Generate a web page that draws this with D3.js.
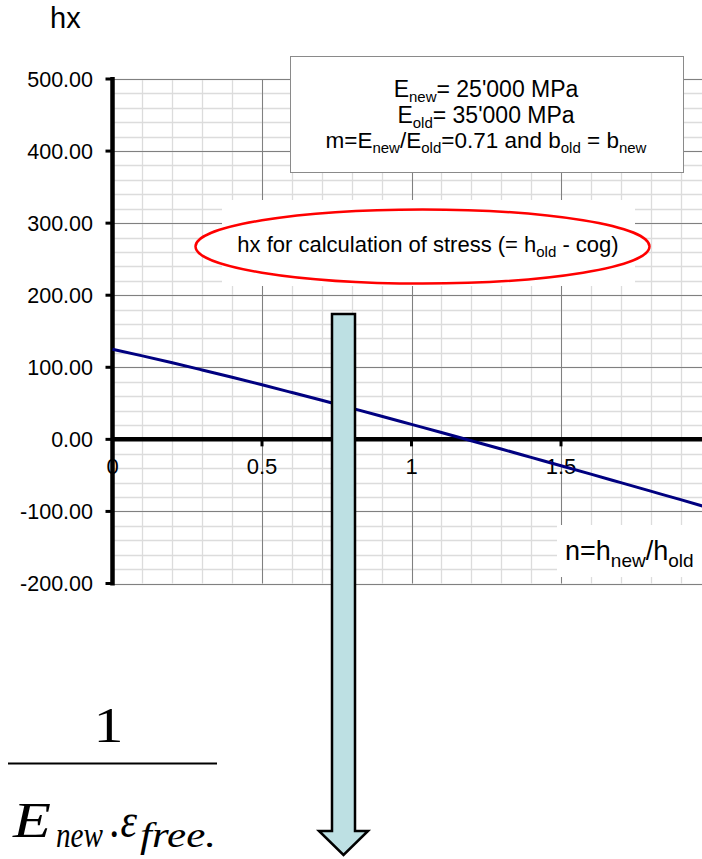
<html>
	<head>
		<meta charset="utf-8">
		<title>hx chart</title>
		<script src="https://d3js.org/d3.v7.min.js"></script>
		<style>
			body { margin: 0; background: #fff; }
			svg { display: block; font-family: "Liberation Sans", Arial, sans-serif; }
		</style>
	</head>
	<body>
		<div id="chart"></div>

	<script type="text/javascript">
		// data
		var nValues = [0, 0.1, 0.2, 0.3, 0.4, 0.5, 0.6, 0.7, 0.8, 0.9, 1.0, 1.1, 1.2, 1.3, 1.4, 1.5, 1.6, 1.7, 1.8, 1.9, 2.0];
		var hxValues = [125, 115.8, 106.3, 96.3, 86.1, 75.7, 65.0, 54.2, 43.2, 32.1, 20.8, 9.5, -1.9, -13.4, -25.0, -36.6, -48.3, -60.1, -71.9, -83.7, -95.6];
		var yTickValues = [500, 400, 300, 200, 100, 0, -100, -200];
		var xTickValues = [0, 0.5, 1, 1.5];
		var xTickLabels = ["0", "0.5", "1", "1.5"];

		var W = 702, H = 859;
		var svg = d3.select("#chart").append("svg")
			.attr("width", W)
			.attr("height", H);

		// scales
		var x = d3.scaleLinear().domain([0, 2]).range([112.5, 710.5]);
		var y = d3.scaleLinear().domain([-200, 500]).range([583.5, 79]);

		// grid: minor then major
		var minorX = d3.range(0, 2.001, 0.1);
		var minorY = d3.range(-200, 500.1, 20);
		var grid = svg.append("g");
		grid.selectAll(".mx").data(minorX).enter().append("line")
			.attr("x1", function(d) { return Math.round(x(d)) + 0.5; })
			.attr("x2", function(d) { return Math.round(x(d)) + 0.5; })
			.attr("y1", y(500)).attr("y2", y(-200))
			.attr("stroke", "#dcdcdc").attr("stroke-width", 1.3);
		grid.selectAll(".my").data(minorY).enter().append("line")
			.attr("x1", x(0)).attr("x2", W)
			.attr("y1", function(d) { return Math.round(y(d)) + 0.5; })
			.attr("y2", function(d) { return Math.round(y(d)) + 0.5; })
			.attr("stroke", "#dcdcdc").attr("stroke-width", 1.3);
		grid.selectAll(".Mx").data([0.5, 1, 1.5, 2]).enter().append("line")
			.attr("x1", function(d) { return Math.round(x(d)) + 0.5; })
			.attr("x2", function(d) { return Math.round(x(d)) + 0.5; })
			.attr("y1", y(500)).attr("y2", y(-200))
			.attr("stroke", "#808080").attr("stroke-width", 1);
		grid.selectAll(".My").data(yTickValues).enter().append("line")
			.attr("x1", x(0)).attr("x2", W)
			.attr("y1", function(d) { return Math.round(y(d)) + 0.5; })
			.attr("y2", function(d) { return Math.round(y(d)) + 0.5; })
			.attr("stroke", "#808080").attr("stroke-width", 1);

		// y tick labels
		svg.append("g").selectAll("text").data(yTickValues).enter().append("text")
			.attr("x", 93)
			.attr("y", function(d) { return y(d) + 7.5; })
			.attr("text-anchor", "end")
			.attr("font-size", 21.5)
			.attr("fill", "#000")
			.text(function(d) { return d3.format(".2f")(d).replace("\u2212", "-"); });

		// x tick labels
		svg.append("g").selectAll("text").data(xTickValues).enter().append("text")
			.attr("x", function(d) { return x(d); })
			.attr("y", 474)
			.attr("text-anchor", "middle")
			.attr("font-size", 22)
			.attr("fill", "#000")
			.text(function(d, i) { return xTickLabels[i]; });

		// axes
		svg.append("line")
			.attr("x1", x(0)).attr("x2", x(0))
			.attr("y1", y(500) - 2).attr("y2", y(-200) + 2)
			.attr("stroke", "#000").attr("stroke-width", 4.5);
		svg.append("line")
			.attr("x1", x(0)).attr("x2", W)
			.attr("y1", y(0)).attr("y2", y(0))
			.attr("stroke", "#000").attr("stroke-width", 4.5);
		svg.append("g").selectAll("line").data(yTickValues).enter().append("line")
			.attr("x1", x(0) - 7).attr("x2", x(0))
			.attr("y1", function(d) { return y(d); })
			.attr("y2", function(d) { return y(d); })
			.attr("stroke", "#000").attr("stroke-width", 3);
		svg.append("g").selectAll("line").data([0.5, 1, 1.5]).enter().append("line")
			.attr("x1", function(d) { return x(d); })
			.attr("x2", function(d) { return x(d); })
			.attr("y1", y(0)).attr("y2", y(0) + 7)
			.attr("stroke", "#000").attr("stroke-width", 3);

		// the hx line
		svg.append("path")
			.datum(nValues)
			.attr("fill", "none")
			.attr("stroke", "#000080")
			.attr("stroke-width", 3)
			.attr("d", d3.line()
				.x(function(d) { return x(d); })
				.y(function(d, i) { return y(hxValues[i]); })
				.curve(d3.curveMonotoneX));

		// axis titles
		svg.append("text")
			.attr("x", 50).attr("y", 28)
			.attr("font-size", 29)
			.text("hx");

		svg.append("rect")
			.attr("x", 557).attr("y", 525).attr("width", 150).attr("height", 52)
			.attr("fill", "#fff");
		var nt = svg.append("text").attr("x", 565).attr("y", 560).attr("font-size", 27);
		nt.append("tspan").text("n=h");
		nt.append("tspan").attr("font-size", 19).attr("dy", 7).text("new");
		nt.append("tspan").attr("dy", -7).text("/h");
		nt.append("tspan").attr("font-size", 19).attr("dy", 7).text("old");

		// info box
		svg.append("rect")
			.attr("x", 290.5).attr("y", 56.5).attr("width", 393).attr("height", 116)
			.attr("fill", "#fff").attr("stroke", "#8a8a8a").attr("stroke-width", 1);
		var t1 = svg.append("text").attr("x", 486).attr("y", 97).attr("text-anchor", "middle").attr("font-size", 23);
		t1.append("tspan").text("E");
		t1.append("tspan").attr("font-size", 15).attr("dy", 5).text("new");
		t1.append("tspan").attr("dy", -5).text("= 25'000 MPa");
		var t2 = svg.append("text").attr("x", 486).attr("y", 123).attr("text-anchor", "middle").attr("font-size", 23);
		t2.append("tspan").text("E");
		t2.append("tspan").attr("font-size", 15).attr("dy", 5).text("old");
		t2.append("tspan").attr("dy", -5).text("= 35'000 MPa");
		var t3 = svg.append("text").attr("x", 486).attr("y", 148).attr("text-anchor", "middle").attr("font-size", 22.5);
		t3.append("tspan").text("m=E");
		t3.append("tspan").attr("font-size", 15).attr("dy", 5).text("new");
		t3.append("tspan").attr("dy", -5).text("/E");
		t3.append("tspan").attr("font-size", 15).attr("dy", 5).text("old");
		t3.append("tspan").attr("dy", -5).text("=0.71 and b");
		t3.append("tspan").attr("font-size", 15).attr("dy", 5).text("old");
		t3.append("tspan").attr("dy", -5).text(" = b");
		t3.append("tspan").attr("font-size", 15).attr("dy", 5).text("new");

		// ellipse callout
		svg.append("rect")
			.attr("x", 222).attr("y", 200).attr("width", 413).attr("height", 86)
			.attr("fill", "#fff");
		svg.append("ellipse")
			.attr("cx", 422.5).attr("cy", 246.5).attr("rx", 227).attr("ry", 37)
			.attr("fill", "#fff").attr("stroke", "#ff0000").attr("stroke-width", 2.5);
		var et = svg.append("text").attr("x", 428).attr("y", 252).attr("text-anchor", "middle").attr("font-size", 22);
		et.append("tspan").text("hx for calculation of stress (= h");
		et.append("tspan").attr("font-size", 15).attr("dy", 5).text("old");
		et.append("tspan").attr("dy", -5).text(" - cog)");

		// arrow
		svg.append("path")
			.attr("d", "M332,314 L355,314 L355,831 L368,831 L343.5,855 L319,831 L332,831 Z")
			.attr("fill", "#bde0e3").attr("stroke", "#000").attr("stroke-width", 2.5)
			.attr("stroke-linejoin", "miter");

		// formula (pieces stretched to the widths seen in the picture)
		var f = svg.append("g").attr("font-family", "'Liberation Serif', 'Times New Roman', serif");
		f.append("text").attr("transform", "translate(108.5,742) scale(1.2,1)").attr("text-anchor", "middle")
			.attr("font-size", 50).text("1");
		f.append("line").attr("x1", 8).attr("x2", 217).attr("y1", 763.5).attr("y2", 763.5)
			.attr("stroke", "#000").attr("stroke-width", 2);
		function piece(txt, x0, base, size, len, italic) {
			f.append("text").attr("x", x0).attr("y", base).attr("font-size", size)
				.attr("font-style", italic ? "italic" : "normal")
				.attr("textLength", len).attr("lengthAdjust", "spacingAndGlyphs")
				.text(txt);
		}
		piece("E", 13, 837, 50, 38, true);
		piece("new", 56, 847, 36, 47, true);
		piece(".\u03b5", 110, 837, 48, 27, true);
		piece("free.", 140, 847, 36, 76, true);
	</script>

	</body>
</html>
